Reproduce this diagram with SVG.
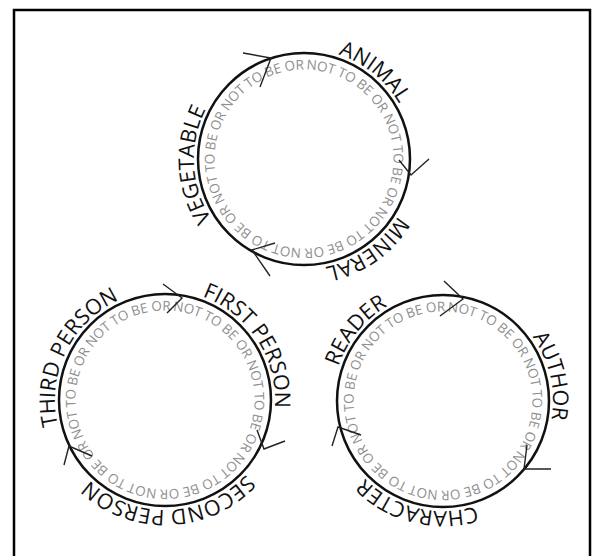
<svg xmlns="http://www.w3.org/2000/svg" width="592" height="556" viewBox="0 0 592 556">
  <style>
    .ring { fill: none; stroke: #111; stroke-width: 2.5; }
    .lbl { font-family: "Open Sans", "DejaVu Sans", sans-serif; font-size: 21.5px; fill: #111; }
    .inner { font-family: "Open Sans", "DejaVu Sans", sans-serif; font-size: 13.5px; fill: #8f8f8f; }
    .arr { fill: none; stroke: #222; stroke-width: 1.4; stroke-linejoin: miter; }
    .frame { fill: none; stroke: #000; stroke-width: 2.5; }
  </style>
  <defs>
    <path id="p1o" d="M304,49 A110,110 0 1 1 304,269 A110,110 0 1 1 304,49"/>
    <path id="p1i" d="M304,69.5 A89.5,89.5 0 1 1 304,248.5 A89.5,89.5 0 1 1 304,69.5"/>
    <path id="p2o" d="M165,290 A110,110 0 1 1 165,510 A110,110 0 1 1 165,290"/>
    <path id="p2i" d="M165,310.5 A89.5,89.5 0 1 1 165,489.5 A89.5,89.5 0 1 1 165,310.5"/>
    <path id="p3o" d="M443,291 A110,110 0 1 1 443,511 A110,110 0 1 1 443,291"/>
    <path id="p3i" d="M443,311.5 A89.5,89.5 0 1 1 443,490.5 A89.5,89.5 0 1 1 443,311.5"/>
  </defs>
  <rect x="0" y="0" width="592" height="556" fill="#fff"/>
  <rect class="frame" x="14" y="10" width="576" height="560"/>

  <g id="node-kingdoms">
    <circle class="ring" cx="304" cy="159" r="106"/>
    <text class="inner" transform="rotate(1.5 304 159)"><textPath href="#p1i" textLength="559" lengthAdjust="spacing">NOT TO BE OR NOT TO BE OR NOT TO BE OR NOT TO BE OR NOT TO BE OR NOT TO BE OR</textPath></text>
    <text class="lbl" text-anchor="middle"><textPath href="#p1o" startOffset="10.83%">ANIMAL</textPath></text>
    <text class="lbl" text-anchor="middle"><textPath href="#p1o" startOffset="40.28%">MINERAL</textPath></text>
    <text class="lbl" text-anchor="middle"><textPath href="#p1o" startOffset="74.17%">VEGETABLE</textPath></text>
  </g>

  <g id="node-persons">
    <circle class="ring" cx="165" cy="400" r="106"/>
    <text class="inner" transform="rotate(5 165 400)"><textPath href="#p2i" textLength="559" lengthAdjust="spacing">NOT TO BE OR NOT TO BE OR NOT TO BE OR NOT TO BE OR NOT TO BE OR NOT TO BE OR</textPath></text>
    <text class="lbl" text-anchor="middle"><textPath href="#p2o" startOffset="15.83%">FIRST PERSON</textPath></text>
    <text class="lbl" text-anchor="middle"><textPath href="#p2o" startOffset="49.44%">SECOND PERSON</textPath></text>
    <text class="lbl" text-anchor="middle"><textPath href="#p2o" startOffset="82.22%">THIRD PERSON</textPath></text>
  </g>

  <g id="node-roles">
    <circle class="ring" cx="443" cy="401" r="106"/>
    <text class="inner" transform="rotate(3 443 401)"><textPath href="#p3i" textLength="559" lengthAdjust="spacing">NOT TO BE OR NOT TO BE OR NOT TO BE OR NOT TO BE OR NOT TO BE OR NOT TO BE OR</textPath></text>
    <text class="lbl" text-anchor="middle"><textPath href="#p3o" startOffset="21.39%">AUTHOR</textPath></text>
    <text class="lbl" text-anchor="middle"><textPath href="#p3o" startOffset="53.89%">CHARACTER</textPath></text>
    <text class="lbl" text-anchor="middle"><textPath href="#p3o" startOffset="85.83%">READER</textPath></text>
  </g>

  <g id="connectors">
    <path class="arr" d="M243,53 L271,58 L260,87"/>
    <path class="arr" d="M399,160 L411,175 L429,159"/>
    <path class="arr" d="M275,243 L252,250 L270,276"/>
    <path class="arr" d="M163,284 L182,298 L167,313"/>
    <path class="arr" d="M257,430 L264,449 L285,441"/>
    <path class="arr" d="M64,465 L69,446 L92,456"/>
    <path class="arr" d="M444,281 L463,299 L440,316"/>
    <path class="arr" d="M527,445 L524,469 L551,469"/>
    <path class="arr" d="M332,446 L338,427 L361,435"/>
  </g>
</svg>
